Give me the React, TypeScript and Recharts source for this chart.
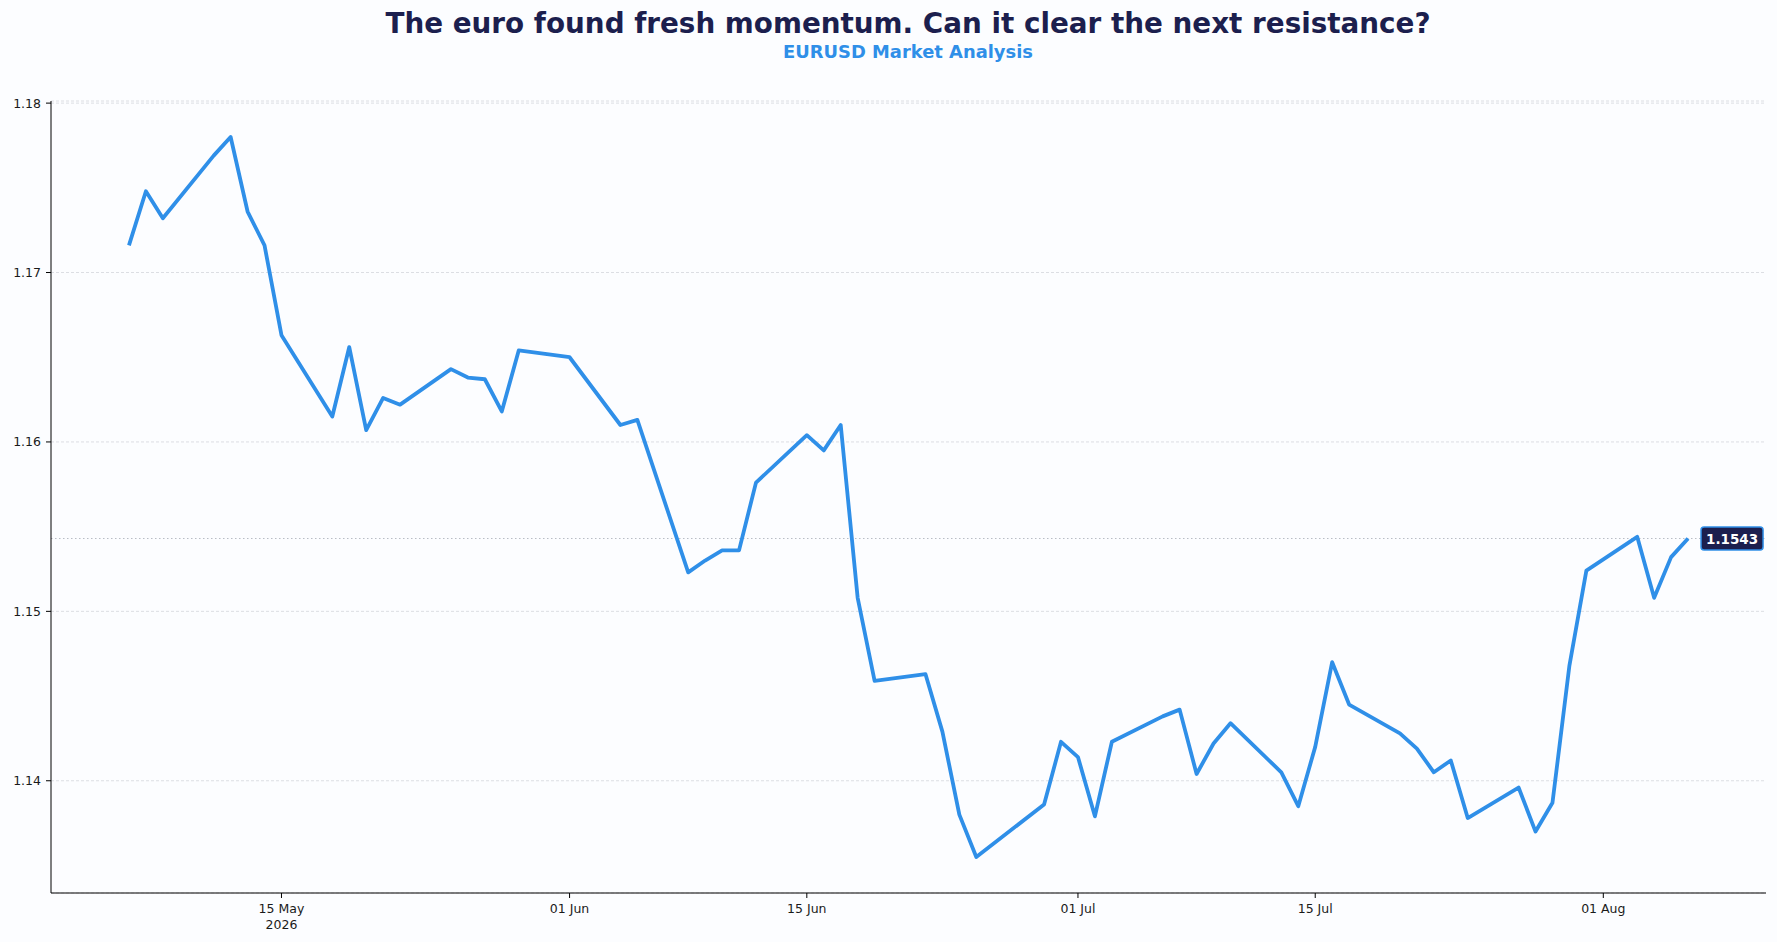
import { LineChart, Line, XAxis, YAxis, CartesianGrid, ReferenceLine, ReferenceDot } from "recharts";

const dates = [
  "2026-05-06", "2026-05-07", "2026-05-08", "2026-05-11", "2026-05-12", "2026-05-13", "2026-05-14", "2026-05-15",
  "2026-05-18", "2026-05-19", "2026-05-20", "2026-05-21", "2026-05-22", "2026-05-25", "2026-05-26", "2026-05-27",
  "2026-05-28", "2026-05-29", "2026-06-01", "2026-06-04", "2026-06-05", "2026-06-08", "2026-06-09", "2026-06-10",
  "2026-06-11", "2026-06-12", "2026-06-15", "2026-06-16", "2026-06-17", "2026-06-18", "2026-06-19", "2026-06-22",
  "2026-06-23", "2026-06-24", "2026-06-25", "2026-06-29", "2026-06-30", "2026-07-01", "2026-07-02", "2026-07-03",
  "2026-07-06", "2026-07-07", "2026-07-08", "2026-07-09", "2026-07-10", "2026-07-13", "2026-07-14", "2026-07-15",
  "2026-07-16", "2026-07-17", "2026-07-20", "2026-07-21", "2026-07-22", "2026-07-23", "2026-07-24", "2026-07-27",
  "2026-07-28", "2026-07-29", "2026-07-30", "2026-07-31", "2026-08-03", "2026-08-04", "2026-08-05", "2026-08-06",
];

const closes = [
  1.1716, 1.1748, 1.1732, 1.1769, 1.178, 1.1736, 1.1716, 1.1663,
  1.1615, 1.1656, 1.1607, 1.1626, 1.1622, 1.1643, 1.1638, 1.1637,
  1.1618, 1.1654, 1.165, 1.161, 1.1613, 1.1523, 1.153, 1.1536,
  1.1536, 1.1576, 1.1604, 1.1595, 1.161, 1.1508, 1.1459, 1.1463,
  1.1429, 1.138, 1.1355, 1.1386, 1.1423, 1.1414, 1.1379, 1.1423,
  1.1438, 1.1442, 1.1404, 1.1422, 1.1434, 1.1405, 1.1385, 1.142,
  1.147, 1.1445, 1.1428, 1.1419, 1.1405, 1.1412, 1.1378, 1.1396,
  1.137, 1.1387, 1.1468, 1.1524, 1.1544, 1.1508, 1.1532, 1.1543,
];

const xTickDates = ["2026-05-15", "2026-06-01", "2026-06-15", "2026-07-01", "2026-07-15", "2026-08-01"];
const yTicks = [1.14, 1.15, 1.16, 1.17, 1.18];

const MONTHS = ["Jan", "Feb", "Mar", "Apr", "May", "Jun", "Jul", "Aug", "Sep", "Oct", "Nov", "Dec"];
const FONT = "'DejaVu Sans', sans-serif";
const BLUE = "#2f8fe8";
const NAVY = "#1c1f4e";

const toTime = (d: string) => new Date(d + "T00:00:00Z").getTime();

const data = dates.map((d, i) => ({ t: toTime(d), close: closes[i] }));

// matplotlib-style 5% margins
const tMin = data[0].t;
const tMax = data[data.length - 1].t;
const tPad = (tMax - tMin) * 0.05;
const vMin = Math.min(...closes);
const vMax = Math.max(...closes);
const vPad = (vMax - vMin) * 0.05;

const last = data[data.length - 1];

function DateTick(props: any) {
  const { x, y, payload, index } = props;
  const d = new Date(payload.value);
  const label = `${String(d.getUTCDate()).padStart(2, "0")} ${MONTHS[d.getUTCMonth()]}`;
  return (
    <g>
      <text x={x} y={y} dy={13} textAnchor="middle" fontSize={12.5} fontFamily={FONT} fill="#1a1a1a">
        {label}
      </text>
      {index === 0 && (
        <text x={x} y={y} dy={29} textAnchor="middle" fontSize={12.5} fontFamily={FONT} fill="#1a1a1a">
          {d.getUTCFullYear()}
        </text>
      )}
    </g>
  );
}

function LastBadge(props: any) {
  const { cx, cy } = props;
  return (
    <g>
      <rect x={cx + 13} y={cy - 11.5} width={62} height={23} rx={3} fill={NAVY} stroke={BLUE} strokeWidth={1.5} />
      <text x={cx + 44} y={cy + 5} textAnchor="middle" fontSize={13.5} fontWeight="bold" fontFamily={FONT} fill="#ffffff">
        {last.close.toFixed(4)}
      </text>
    </g>
  );
}

export default function App() {
  return (
    <div style={{ position: "absolute", left: 0, top: 0, width: 1777, height: 942, background: "#fcfdff" }}>
      <svg width={1777} height={80} style={{ position: "absolute", left: 0, top: 0 }}>
        <text x={908} y={32.5} textAnchor="middle" fontSize={27.8} fontWeight="bold" fontFamily={FONT} fill={NAVY}>
          The euro found fresh momentum. Can it clear the next resistance?
        </text>
        <text x={908} y={57.5} textAnchor="middle" fontSize={17.9} fontWeight="bold" fontFamily={FONT} fill={BLUE}>
          EURUSD Market Analysis
        </text>
      </svg>
      <LineChart width={1777} height={942} data={data} margin={{ top: 101, right: 11, bottom: 0, left: 0 }}>
        <CartesianGrid vertical={false} stroke="#dcdee3" strokeDasharray="3 2" />
        <XAxis
          dataKey="t"
          type="number"
          scale="time"
          domain={[tMin - tPad, tMax + tPad]}
          ticks={xTickDates.map(toTime)}
          tick={<DateTick />}
          height={49}
          tickSize={5}
          tickMargin={2}
          axisLine={{ stroke: "#000" }}
          tickLine={{ stroke: "#000" }}
          interval={0}
          allowDataOverflow
        />
        <YAxis
          type="number"
          domain={[vMin - vPad, vMax + vPad]}
          ticks={yTicks}
          tickFormatter={(v: number) => v.toFixed(2)}
          width={51}
          tickSize={5}
          tickMargin={5}
          tick={{ fontSize: 12.5, fontFamily: FONT, fill: "#1a1a1a" }}
          axisLine={{ stroke: "#000" }}
          tickLine={{ stroke: "#000" }}
          interval={0}
          allowDataOverflow
        />
        <ReferenceLine y={last.close} stroke="#b9bdc5" strokeDasharray="1.5 2.5" strokeWidth={1} />
        <Line
          type="linear"
          dataKey="close"
          stroke={BLUE}
          strokeWidth={3.8}
          strokeLinejoin="round"
          dot={false}
          activeDot={false}
          isAnimationActive={false}
        />
        <ReferenceDot x={last.t} y={last.close} r={0} shape={<LastBadge />} />
      </LineChart>
    </div>
  );
}
